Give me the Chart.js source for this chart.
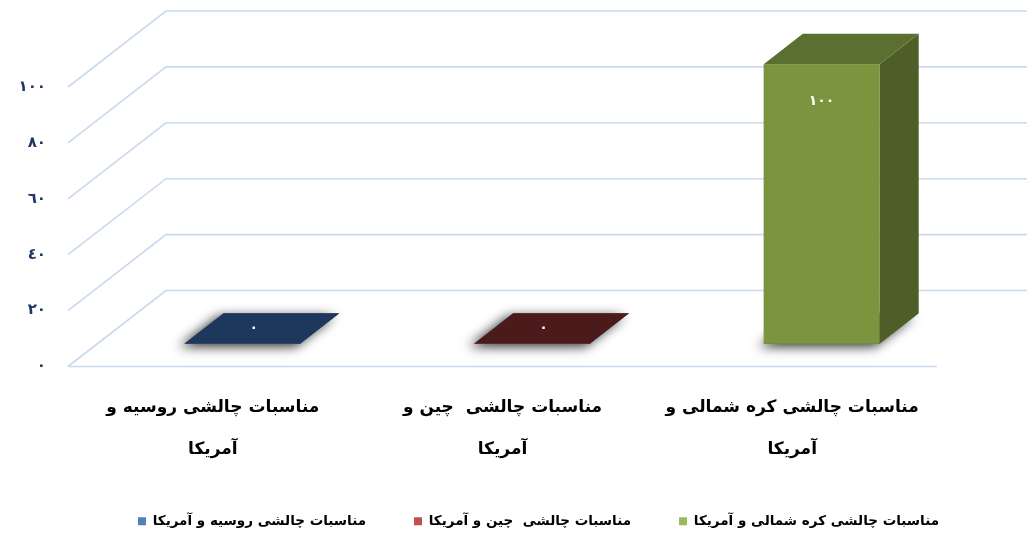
<!DOCTYPE html>
<html><head><meta charset="utf-8">
<style>html,body{margin:0;padding:0;background:#fff;}</style>
</head><body>
<canvas id="c" width="1027" height="533"></canvas>
<script src="https://cdn.jsdelivr.net/npm/chart.js@4/dist/chart.umd.min.js"></script>
<script>
const categories = [["مناسبات چالشی روسیه و","آمریکا"],["مناسبات چالشی  چین و","آمریکا"],["مناسبات چالشی کره شمالی و","آمریکا"]];
const seriesNames = ["مناسبات چالشی روسیه و آمریکا","مناسبات چالشی  چین و آمریکا","مناسبات چالشی کره شمالی و آمریکا"];
const values = [0, 0, 100];
const valueLabels = ["٠", "٠", "١٠٠"];
const yTickLabels = ["٠", "٢٠", "٤٠", "٦٠", "٨٠", "١٠٠"];
const legendColors = ["#4F81BD", "#C0504D", "#9BBB59"];
const frontColors = ["#2E4E78", "#6B2422", "#7A953E"];
const topColors = ["#1E385D", "#4B1A1A", "#5B7030"];
const sideColors = ["#1A2F4E", "#3E1515", "#4D5E27"];

const FONT = "'DejaVu Sans', 'Noto Sans', sans-serif";
const DX = 98, DY = -76, F0 = 0.3, F1 = 0.7;

function poly(ctx, pts){ ctx.beginPath(); ctx.moveTo(pts[0][0], pts[0][1]); for (let i=1;i<pts.length;i++) ctx.lineTo(pts[i][0], pts[i][1]); ctx.closePath(); }

const box3d = {
  id: 'box3d',
  beforeDatasetsDraw(chart){
    const ctx = chart.ctx, ys = chart.scales.y, a = chart.chartArea;
    ctx.save();
    ctx.strokeStyle = '#C9D9EF'; ctx.lineWidth = 1.6;
    ys.ticks.forEach(t => {
      const py = ys.getPixelForValue(t.value);
      ctx.beginPath(); ctx.moveTo(a.left, py); ctx.lineTo(a.left + DX, py + DY); ctx.lineTo(chart.width + 20, py + DY); ctx.stroke();
    });
    const p0 = ys.getPixelForValue(0);
    ctx.beginPath(); ctx.moveTo(a.left, p0); ctx.lineTo(a.right, p0); ctx.stroke();
    ctx.restore();
  },
  afterDatasetsDraw(chart){
    const ctx = chart.ctx;
    const meta = chart.getDatasetMeta(0);
    meta.data.forEach((el, i) => {
      const p = el.getProps(['x','y','base','width'], true);
      const l = p.x - p.width/2, r = p.x + p.width/2;
      const fl = l + F0*DX, fr = r + F0*DX, ft = p.y + F0*DY, fb = p.base + F0*DY;
      const bl = l + F1*DX, br = r + F1*DX, bt = p.y + F1*DY, bb = p.base + F1*DY;
      ctx.save();
      ctx.shadowColor = 'rgba(0,0,0,0.8)'; ctx.shadowBlur = 12; ctx.shadowOffsetX = -5; ctx.shadowOffsetY = 3;
      ctx.fillStyle = '#666';
      poly(ctx, [[fl,fb],[fr,fb],[br,bb],[bl,bb]]); ctx.fill();
      ctx.restore();
      ctx.save();
      if (fb - ft > 0.5) {
        ctx.fillStyle = sideColors[i];
        poly(ctx, [[fr,ft],[br,bt],[br,bb],[fr,fb]]); ctx.fill();
        ctx.fillStyle = frontColors[i];
        ctx.fillRect(fl, ft, fr - fl, fb - ft);
      }
      ctx.fillStyle = topColors[i];
      poly(ctx, [[fl,ft],[fr,ft],[br,bt],[bl,bt]]); ctx.fill();
      ctx.fillStyle = '#fff';
      ctx.font = 'bold 14px ' + FONT;
      ctx.textAlign = 'center'; ctx.textBaseline = 'middle';
      if (fb - ft > 0.5) ctx.fillText(valueLabels[i], (fl+fr)/2, ft + 37);
      else ctx.fillText(valueLabels[i], (fl+br)/2 - 8, (ft+bt)/2);
      ctx.restore();
    });
  }
};

new Chart(document.getElementById('c'), {
  type: 'bar',
  data: {
    labels: categories,
    datasets: [{ data: values, backgroundColor: 'rgba(0,0,0,0)', borderWidth: 0, categoryPercentage: 1, barPercentage: 0.4 }]
  },
  options: {
    responsive: false, animation: false, devicePixelRatio: 1,
    layout: { padding: { left: 0, top: 87, right: -50, bottom: -5 } },
    scales: {
      x: {
        grid: { display: false, drawTicks: false, tickLength: 0 }, border: { display: false },
        ticks: { padding: 20, color: '#000', maxRotation: 0, autoSkip: false, font: { family: FONT, size: 17, weight: 'bold', lineHeight: 2.47 } },
        afterFit(s){ s.height = 100; }
      },
      y: {
        min: 0, max: 100,
        grid: { display: false, drawTicks: false, tickLength: 0 }, border: { display: false },
        ticks: { stepSize: 20, padding: 22, color: '#1F3864', font: { family: FONT, size: 15, weight: 'bold' }, callback: (v, i) => yTickLabels[i] },
        afterFit(s){ s.width = 68; }
      },
      y2: {
        position: 'right', display: true,
        grid: { display: false, drawTicks: false }, border: { display: false },
        ticks: { display: false },
        afterFit(s){ s.width = 140; }
      }
    },
    plugins: {
      tooltip: { enabled: false },
      legend: {
        position: 'bottom',
        labels: {
          boxWidth: 8, boxHeight: 8, padding: 48, color: '#000',
          font: { family: FONT, size: 13.5, weight: 'bold' },
          generateLabels: () => seriesNames.map((n, i) => ({ text: n, fillStyle: legendColors[i], strokeStyle: legendColors[i], lineWidth: 0, hidden: false, index: i }))
        }
      }
    }
  },
  plugins: [box3d]
});
</script>
</body></html>
